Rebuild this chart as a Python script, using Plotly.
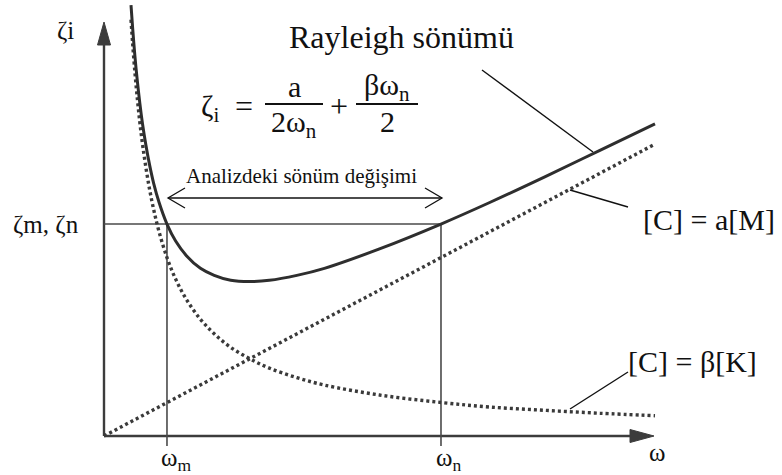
import plotly.graph_objects as go

# Angular frequency samples along the damping curves
omega = [0.49, 0.52, 0.56, 0.6, 0.65, 0.7, 0.76, 0.83, 0.9, 1.0, 1.143, 1.3, 1.5, 1.75,
         2.0, 2.3, 2.64, 3.0, 3.5, 4.0, 5.0, 6.116, 7.0, 8.0, 9.0, 10.0]
# Mass-proportional share (falls off as 1/omega)
zeta_mass = [10.06, 9.48, 8.80, 8.22, 7.58, 7.04, 6.49, 5.94, 5.48, 4.93, 4.31, 3.79, 3.29, 2.82,
             2.47, 2.14, 1.87, 1.64, 1.41, 1.23, 0.99, 0.81, 0.70, 0.62, 0.55, 0.49]
# Rayleigh total damping
zeta_total = [10.41, 9.85, 9.19, 8.64, 8.04, 7.53, 7.03, 6.53, 6.11, 5.64, 5.12, 4.71, 4.35, 4.05,
              3.88, 3.76, 3.73, 3.76, 3.88, 4.05, 4.52, 5.12, 5.64, 6.26, 6.90, 7.54]
# Stiffness-proportional share (straight line through the origin)
omega_stiff = [0.0, 1.143, 2.64, 4.0, 6.116, 8.0, 10.0]
zeta_stiff = [0.0, 0.81, 1.86, 2.82, 4.31, 5.64, 7.05]

# Analysis band
omega_m = 1.143
omega_n = 6.116
zeta_mn = 5.12

W, H = 782, 475
OX, OY = 104, 436          # origin in pixels
SX, SY = 55.1, 41.4        # pixels per unit

def dx(px):
    return (px - OX) / SX

def dy(py):
    return (OY - py) / SY

def px(x):
    return x / W

def py(y):
    return 1 - y / H

INK = "#2e2e2e"
AX = "#3c3c3c"
SERIF = "Liberation Serif, Times New Roman, serif"

fig = go.Figure()

fig.add_trace(go.Scatter(x=omega, y=zeta_mass, mode="lines",
                         line=dict(color="#3a3a3a", width=3.4, dash="3px,3px", shape="spline"),
                         hoverinfo="skip", showlegend=False))
fig.add_trace(go.Scatter(x=omega_stiff, y=zeta_stiff, mode="lines",
                         line=dict(color="#3a3a3a", width=3.4, dash="3px,3px"),
                         hoverinfo="skip", showlegend=False))
fig.add_trace(go.Scatter(x=omega, y=zeta_total, mode="lines",
                         line=dict(color=INK, width=3, shape="spline"),
                         hoverinfo="skip", showlegend=False))

shapes = []

def seg(x0, y0, x1, y1, width, color):
    shapes.append(dict(type="line", xref="x", yref="y", x0=x0, y0=y0, x1=x1, y1=y1,
                       line=dict(color=color, width=width), layer="below"))

# Axes with filled arrow heads
x_tip, x_hl, x_hw = dx(654), dx(654) - dx(630), 6.5 / SY
seg(0, 0, x_tip - x_hl * 0.6, 0, 2.4, AX)
shapes.append(dict(type="path", xref="x", yref="y",
                   path=f"M{x_tip},0 L{x_tip - x_hl},{x_hw} L{x_tip - x_hl},{-x_hw} Z",
                   fillcolor=AX, line=dict(color=AX, width=1)))
y_tip, y_hl, y_hw = dy(22), dy(22) - dy(45), 6.5 / SX
seg(0, 0, 0, y_tip - y_hl * 0.6, 2.4, AX)
shapes.append(dict(type="path", xref="x", yref="y",
                   path=f"M0,{y_tip} L{y_hw},{y_tip - y_hl} L{-y_hw},{y_tip - y_hl} Z",
                   fillcolor=AX, line=dict(color=AX, width=1)))

# Band guides
seg(0, zeta_mn, omega_n, zeta_mn, 1.6, "#4a4a4a")
seg(omega_m, zeta_mn, omega_m, dy(446), 1.6, "#4a4a4a")
seg(omega_n, zeta_mn, omega_n, dy(446), 1.6, "#4a4a4a")

# Double-headed span arrow
ay = dy(198)
ax0, ax1 = dx(168), dx(442)
ahx, ahy = 17 / SX, 10 / SY
seg(ax0, ay, ax1, ay, 1.3, "#111111")
shapes.append(dict(type="path", xref="x", yref="y",
                   path=f"M{ax0 + ahx},{ay + ahy} L{ax0},{ay} L{ax0 + ahx},{ay - ahy}",
                   line=dict(color="#111111", width=1.3)))
shapes.append(dict(type="path", xref="x", yref="y",
                   path=f"M{ax1 - ahx},{ay + ahy} L{ax1},{ay} L{ax1 - ahx},{ay - ahy}",
                   line=dict(color="#111111", width=1.3)))

# Leader lines
seg(dx(482), dy(70), dx(593), dy(152), 1.4, "#111111")
seg(dx(570), dy(190), dx(628), dy(207), 1.4, "#111111")
seg(dx(570), dy(409), dx(628), dy(372), 1.4, "#111111")

# Fraction bars of the formula
seg(dx(265), dy(104), dx(323), dy(104), 2.2, "#111111")
seg(dx(356), dy(104), dx(418), dy(104), 2.2, "#111111")

annotations = []

def label(text, x, y, size, anchor="center", family=SERIF):
    annotations.append(dict(text=text, x=px(x), y=py(y), xref="paper", yref="paper",
                            showarrow=False, xanchor=anchor, yanchor="middle",
                            font=dict(family=family, size=size, color="#111111")))

label("ζi", 65, 31, 25)
label("Rayleigh sönümü", 401, 37, 32)
label("Analizdeki sönüm değişimi", 301, 176, 21)
label("ζm, ζn", 46, 225, 25)
label("ω<sub>m</sub>", 176, 459, 25)
label("ω<sub>n</sub>", 448, 459, 25)
label("ω", 657, 452, 25)
label("[C] = a[M]", 709, 219, 30)
label("[C] = β[K]", 692, 361, 30)

# Formula  ζi = a / (2ωn) + βωn / 2
label("ζ<sub>i</sub>", 210, 108, 30)
label("=", 244, 106, 32)
label("a", 294, 87, 30)
label("2ω<sub>n</sub>", 294, 124, 30)
label("+", 339, 106, 32)
label("βω<sub>n</sub>", 387, 87, 30)
label("2", 387, 122, 30)

fig.update_layout(
    width=W, height=H,
    margin=dict(l=0, r=0, t=0, b=0),
    paper_bgcolor="white", plot_bgcolor="white",
    xaxis=dict(range=[dx(0), dx(W)], visible=False, fixedrange=True),
    yaxis=dict(range=[dy(H), dy(0)], visible=False, fixedrange=True),
    shapes=shapes, annotations=annotations, showlegend=False,
)

fig.write_html("out.html")
